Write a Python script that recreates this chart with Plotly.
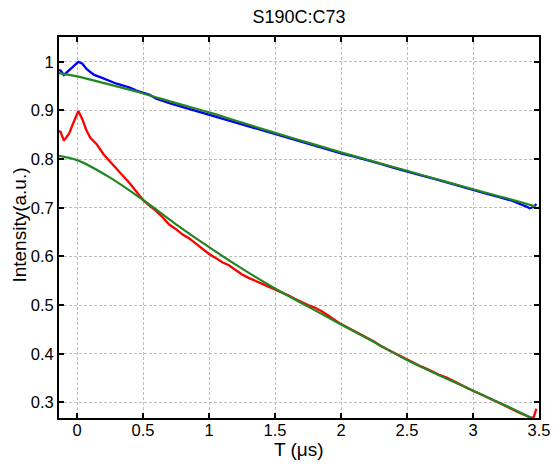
import plotly.graph_objects as go

# ---- data ----
blue_t = [-0.14, -0.125, -0.10, -0.06, -0.02, 0.01, 0.04, 0.07, 0.10, 0.13, 0.18, 0.25, 0.30, 0.35,
          0.40, 0.45, 0.50, 0.55, 0.60, 0.65, 0.70, 0.75, 0.80, 0.85, 0.90, 0.95, 1.00, 1.1, 1.2,
          1.3, 1.4, 1.5, 1.6, 1.7, 1.8, 1.9, 2.0, 2.1, 2.2, 2.3, 2.4, 2.5, 2.6, 2.7, 2.8, 2.9,
          3.0, 3.1, 3.2, 3.3, 3.4, 3.43, 3.46, 3.48]
blue_v = [0.983, 0.982, 0.973, 0.983, 0.993, 1.000, 0.996, 0.986, 0.979, 0.973, 0.968, 0.960, 0.955,
          0.951, 0.947, 0.941, 0.936, 0.932, 0.924, 0.919, 0.915, 0.911, 0.907, 0.903, 0.899, 0.895,
          0.892, 0.884, 0.876, 0.868, 0.859, 0.851, 0.843, 0.835, 0.828, 0.820, 0.812, 0.805, 0.798,
          0.790, 0.782, 0.774, 0.767, 0.760, 0.752, 0.744, 0.736, 0.729, 0.722, 0.714, 0.703, 0.699,
          0.702, 0.708]

red_t = [-0.14, -0.125, -0.10, -0.06, -0.02, 0.01, 0.04, 0.07, 0.10, 0.15, 0.20, 0.25, 0.30, 0.35,
         0.40, 0.45, 0.50, 0.55, 0.60, 0.65, 0.70, 0.75, 0.80, 0.85, 0.90, 0.95, 1.00, 1.05, 1.10,
         1.15, 1.20, 1.25, 1.30, 1.35, 1.40, 1.45, 1.50, 1.55, 1.60, 1.65, 1.70, 1.75, 1.80, 1.85,
         1.90, 1.95, 2.00, 2.05, 2.10, 2.15, 2.20, 2.25, 2.30, 2.35, 2.40, 2.45, 2.50, 2.55, 2.60,
         2.65, 2.70, 2.75, 2.80, 2.85, 2.90, 2.95, 3.00, 3.05, 3.10, 3.15, 3.20, 3.25, 3.30, 3.35,
         3.40, 3.44, 3.46, 3.48]
red_v = [0.858, 0.856, 0.838, 0.853, 0.880, 0.899, 0.882, 0.860, 0.844, 0.830, 0.810, 0.795, 0.782,
         0.766, 0.750, 0.733, 0.716, 0.704, 0.693, 0.680, 0.665, 0.656, 0.645, 0.637, 0.626, 0.616,
         0.605, 0.597, 0.588, 0.582, 0.572, 0.563, 0.556, 0.550, 0.545, 0.539, 0.533, 0.526, 0.520,
         0.513, 0.506, 0.500, 0.495, 0.488, 0.479, 0.470, 0.461, 0.454, 0.447, 0.439, 0.432, 0.425,
         0.416, 0.409, 0.402, 0.395, 0.388, 0.382, 0.375, 0.369, 0.362, 0.356, 0.351, 0.344, 0.337,
         0.330, 0.324, 0.318, 0.311, 0.305, 0.299, 0.292, 0.286, 0.279, 0.273, 0.268, 0.270, 0.287]

fit_top_t = [-0.14, 0.0, 0.25, 0.5, 0.75, 1.0, 1.25, 1.5, 1.75, 2.0, 2.25, 2.5, 2.75, 3.0, 3.25, 3.47]
fit_top_v = [0.977, 0.970, 0.953, 0.935, 0.915, 0.896, 0.875, 0.854, 0.834, 0.814, 0.795, 0.776,
             0.757, 0.738, 0.720, 0.703]

fit_bot_t = [-0.14, 0.0, 0.25, 0.5, 0.75, 1.0, 1.25, 1.5, 1.75, 2.0, 2.25, 2.5, 2.75, 3.0, 3.25, 3.46]
fit_bot_v = [0.807, 0.798, 0.762, 0.716, 0.666, 0.619, 0.575, 0.534, 0.497, 0.460, 0.424, 0.387,
             0.355, 0.324, 0.293, 0.266]

x_ticks = [0, 0.5, 1, 1.5, 2, 2.5, 3, 3.5]
x_ticktext = ["0", "0.5", "1", "1.5", "2", "2.5", "3", "3.5"]
y_ticks = [0.3, 0.4, 0.5, 0.6, 0.7, 0.8, 0.9, 1.0]
y_ticktext = ["0.3", "0.4", "0.5", "0.6", "0.7", "0.8", "0.9", "1"]

title_text = "S190C:C73"
x_title = "T (μs)"
y_title = "Intensity(a.u.)"

FONT = "Liberation Sans, Arial, sans-serif"
GREEN = "rgb(34,135,34)"

L, R, T, B = 59, 14, 37, 50
W, H = 553, 468
PW, PH = W - L - R, H - T - B

fig = go.Figure()
fig.add_trace(go.Scatter(x=blue_t, y=blue_v, mode="lines",
                         line=dict(color="rgb(0,0,255)", width=2.3), showlegend=False))
fig.add_trace(go.Scatter(x=red_t, y=red_v, mode="lines",
                         line=dict(color="rgb(255,0,0)", width=2.3), showlegend=False))
fig.add_trace(go.Scatter(x=fit_top_t, y=fit_top_v, mode="lines", line_shape="spline",
                         line=dict(color=GREEN, width=2.2), showlegend=False))
fig.add_trace(go.Scatter(x=fit_bot_t, y=fit_bot_v, mode="lines", line_shape="spline",
                         line=dict(color=GREEN, width=2.2), showlegend=False))

axis_common = dict(
    showline=True, linecolor="black", linewidth=2, mirror="allticks",
    ticks="inside", ticklen=5, tickwidth=2, tickcolor="black",
    showgrid=True, gridcolor="rgb(190,190,190)", gridwidth=1, griddash="3px,2px",
    zeroline=False, automargin=False,
    tickfont=dict(family=FONT, size=16.5, color="black"),
)

fig.update_xaxes(range=[-0.137, 3.5], tickvals=x_ticks, ticktext=x_ticktext,
                 ticklabelstandoff=-4, **axis_common)
fig.update_yaxes(range=[0.268, 1.051], tickvals=y_ticks, ticktext=y_ticktext,
                 **axis_common)

fig.update_layout(
    width=W, height=H,
    margin=dict(l=L, r=R, t=T, b=B, pad=0, autoexpand=False),
    paper_bgcolor="white", plot_bgcolor="white",
    hovermode=False,
    title=dict(text=title_text, x=(L + PW / 2) / W, xanchor="center", y=1 - 17 / H,
               yanchor="middle", yref="container", automargin=False,
               font=dict(family=FONT, size=18, color="black")),
    annotations=[
        dict(text=x_title, xref="paper", yref="paper", x=0.5, y=-(449 - (T + PH)) / PH,
             xanchor="center", yanchor="middle", showarrow=False,
             font=dict(family=FONT, size=19, color="black")),
        dict(text=y_title, xref="paper", yref="paper", x=-(L - 20) / PW, y=0.505,
             xanchor="center", yanchor="middle", textangle=-90, showarrow=False,
             font=dict(family=FONT, size=19, color="black")),
    ],
)

fig.write_html("out.html", config={"displayModeBar": False},
               post_script="document.body.style.margin='0';document.body.style.overflow='hidden';")
